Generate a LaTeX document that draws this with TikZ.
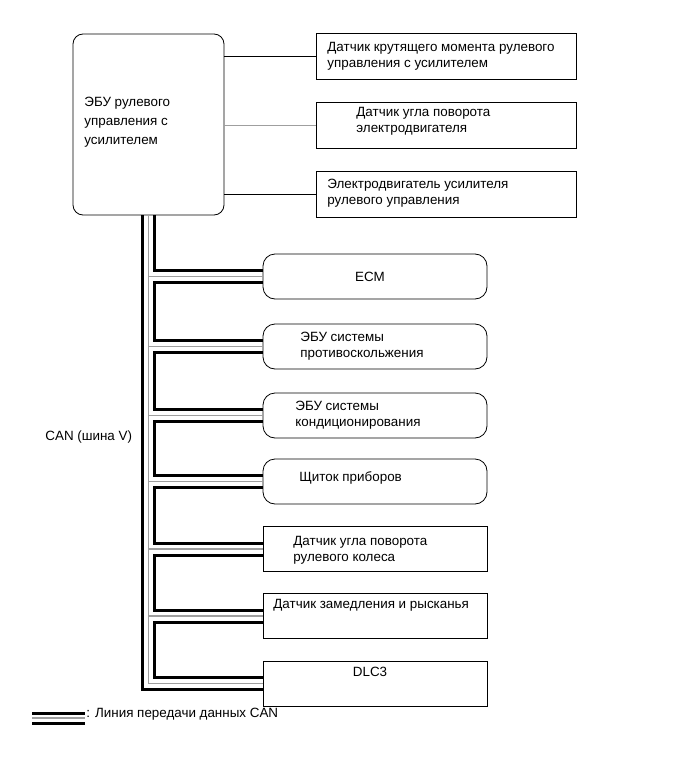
\documentclass[tikz,border=0pt]{standalone}
\usepackage{fontspec}
\setmainfont{Liberation Sans}
\usetikzlibrary{positioning}

\begin{document}
\begin{tikzpicture}[x=1pt, y=-1pt, line width=0.8pt,
    ecubox/.style={draw, rounded corners=10pt, minimum width=151pt, minimum height=181pt, inner sep=0pt},
    sensbox/.style={draw, minimum width=260pt, minimum height=46pt, inner sep=0pt},
    devbox/.style={draw, rounded corners=12pt, minimum width=224pt, minimum height=45pt, inner sep=0pt},
    rectbox/.style={draw, minimum width=224pt, minimum height=45pt, inner sep=0pt},
    txt/.style={inner sep=0pt, align=left, font=\fontsize{13.4}{16}\selectfont},
    busk/.style={line width=3pt},
    busg/.style={line width=1.5pt, gray!75}]
    \useasboundingbox (0,0) rectangle (691,757);

    % Units
    \node[ecubox] (ecu) at (148.5,124.5) {};
    \node[sensbox] (trq) at (446,56) {};
    \node[sensbox] (mang) at (446,125.5) {};
    \node[sensbox] (mot) at (446,194) {};
    \node[devbox] (ecm) at (375,276.5) {};
    \node[devbox] (abs) at (375,346.5) {};
    \node[devbox] (ac) at (375,415.5) {};
    \node[devbox] (meter) at (375,481.5) {};
    \node[rectbox] (steer) at (375,549) {};
    \node[rectbox] (yaw) at (375,616) {};
    \node[rectbox] (dlc) at (375,683.5) {};

    % Texts
    \node[txt, anchor=west, font=\fontsize{13.4}{19}\selectfont] (ecu-t) at (84,122) {ЭБУ рулевого\\управления с\\усилителем};
    \node[txt, anchor=west] (trq-t) at (327,56) {Датчик крутящего момента рулевого\\управления с усилителем};
    \node[txt, anchor=west] (mang-t) at (356,121) {Датчик угла поворота\\электродвигателя};
    \node[txt, anchor=west] (mot-t) at (327,193) {Электродвигатель усилителя\\рулевого управления};
    \node[txt] (ecm-t) at (370,277) {ECM};
    \node[txt, anchor=west] (abs-t) at (300,346) {ЭБУ системы\\противоскольжения};
    \node[txt, anchor=west] (ac-t) at (295,415) {ЭБУ системы\\кондиционирования};
    \node[txt, anchor=west] (meter-t) at (299,478) {Щиток приборов};
    \node[txt, anchor=west] (steer-t) at (293,550) {Датчик угла поворота\\рулевого колеса};
    \node[txt, anchor=west] (yaw-t) at (273,605) {Датчик замедления и рысканья};
    \node[txt] (dlc-t) at (370,672) {DLC3};
    \node[txt, anchor=west] (can-t) at (45,437) {CAN (шина V)};
    \node[txt, anchor=west] (leg-t) at (86,714) {: Линия передачи данных CAN};

    % Sensor wiring
    \draw (ecu.east |- trq.west) -- (trq.west);
    \draw[gray!75] (ecu.east |- mang.west) -- (mang.west);
    \draw (ecu.east |- mot.west) -- (mot.west);

    % CAN bus
    \coordinate (inner) at ([xshift=6pt]ecu.south);
    \draw[busk] ([xshift=-6pt]ecu.south) |- ([yshift=-6pt]dlc.west);
    \draw[busg] (ecu.south) |- (dlc.west);
    \foreach \n in {ecm,abs,ac,meter,steer,yaw}
        \draw[busg] (ecu.south |- \n.west) -- (\n.west);
    \draw[busk] (inner) |- ([yshift=6pt]ecm.west);
    \foreach \a/\b in {ecm/abs, abs/ac, ac/meter, meter/steer, steer/yaw, yaw/dlc}
        \draw[busk] ([yshift=-6pt]\a.west) -| ([yshift=6pt]inner |- \b.west) -- ([yshift=6pt]\b.west);

    % Legend
    \coordinate (leg-a) at (32,718);
    \coordinate (leg-b) at (85,718);
    \draw[busk] ([yshift=5pt]leg-a) -- ([yshift=5pt]leg-b);
    \draw[busg] (leg-a) -- (leg-b);
    \draw[busk] ([yshift=-5pt]leg-a) -- ([yshift=-5pt]leg-b);
\end{tikzpicture}
\end{document}
